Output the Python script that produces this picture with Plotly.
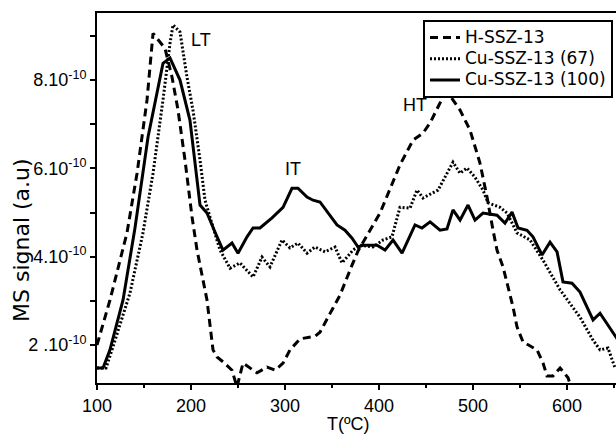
import plotly.graph_objects as go

SCALE = 1e-10

# H-SSZ-13 (dashed)
h_T = [100, 113.8, 131.9, 142.6, 153.2, 159.6, 172.3, 179.8, 186.2, 193.6, 201.1, 206.4, 217.0,
       223.4, 227.7, 234.0, 243.6, 248.9, 255.3, 270.2, 280.9, 289.4, 297.9, 305.3, 316.0, 332.0,
       337.2, 344.7, 351.1, 358.5, 363.8, 371.3, 377.7, 401.1, 422.3, 436.2, 446.8, 454.3, 468.1,
       473.4, 486.2, 496.8, 507.4, 514.9, 521.3, 525.5, 531.9, 536.2, 542.6, 546.8, 553.2, 568.1,
       574.5, 578.7, 585.1, 592.6, 601.1, 605.3]
h_S = [2.00, 3.02, 4.54, 5.89, 7.55, 9.06, 8.72, 8.07, 7.32, 6.19, 4.90, 4.15, 3.02,
       1.89, 1.73, 1.62, 1.43, 1.05, 1.59, 1.37, 1.50, 1.43, 1.59, 1.89, 2.14, 2.20,
       2.29, 2.57, 2.84, 3.13, 3.43, 3.81, 4.13, 4.99, 6.08, 6.64, 6.80, 7.03, 7.62,
       7.71, 7.32, 6.87, 6.12, 5.35, 4.60, 4.15, 3.77, 3.40, 2.86, 2.41, 2.07, 1.89,
       1.59, 1.30, 1.30, 1.48, 1.26, 0.98]

# Cu-SSZ-13 (67) (dotted)
c67_T = [100, 109.6, 117.0, 135.1, 148.9, 159.6, 170.2, 177.7, 180.9, 188.3, 195.7, 202.1, 209.6,
         214.9, 223.4, 230.9, 241.5, 252.1, 266.0, 275.5, 284.0, 296.8, 305.3, 313.8, 323.4, 331.9,
         342.6, 353.2, 360.6, 372.3, 379.8, 393.6, 404.3, 413.8, 422.3, 433.0, 440.4, 446.8, 462.8,
         478.7, 486.2, 493.6, 502.1, 510.6, 516.0, 528.7, 536.2, 546.8, 560.6, 574.5, 592.6, 613.8,
         627.7, 635.1, 643.6, 651.1]
c67_S = [1.48, 1.48, 1.96, 3.18, 4.54, 5.89, 7.55, 8.84, 9.25, 9.09, 8.07, 7.32, 6.19,
         5.28, 4.67, 4.15, 3.74, 3.86, 3.54, 3.99, 3.77, 4.38, 4.20, 4.31, 4.08, 4.22,
         4.11, 4.22, 3.86, 4.15, 4.26, 4.22, 4.38, 4.45, 5.12, 5.10, 5.51, 5.33, 5.51,
         6.14, 5.89, 6.01, 5.80, 5.51, 5.22, 5.12, 4.99, 4.54, 4.38, 3.92, 3.25, 2.63,
         2.11, 1.89, 1.93, 1.48]

# Cu-SSZ-13 (100) (solid)
c100_T = [100, 106.4, 113.8, 127.7, 140.4, 154.3, 170.2, 177.7, 188.3, 198.9, 209.6, 217.0, 225.5,
          234.0, 243.6, 250.0, 259.6, 266.0, 273.4, 286.2, 297.9, 307.4, 313.8, 323.4, 329.8, 337.2,
          355.3, 363.8, 371.3, 377.7, 383.0, 397.9, 406.4, 414.9, 424.5, 438.3, 445.7, 454.3, 464.9,
          472.3, 478.7, 486.2, 494.7, 502.1, 510.6, 525.5, 534.0, 541.5, 547.9, 557.4, 563.8, 573.4,
          581.9, 589.4, 595.7, 605.3, 613.8, 627.7, 635.1, 648.9, 654.3]
c100_S = [1.48, 1.48, 1.89, 3.02, 4.65, 6.71, 8.38, 8.50, 8.00, 7.09, 5.17, 4.99, 4.56,
          4.15, 4.31, 4.08, 4.45, 4.65, 4.65, 4.88, 5.12, 5.55, 5.55, 5.35, 5.28, 5.24,
          4.72, 4.60, 4.42, 4.22, 4.26, 4.26, 4.15, 4.38, 4.08, 4.72, 4.65, 4.79, 4.60,
          4.63, 5.06, 4.83, 5.17, 4.83, 4.99, 4.94, 4.76, 5.01, 4.65, 4.60, 4.45, 4.04,
          4.33, 4.11, 3.43, 3.40, 3.20, 2.57, 2.72, 2.27, 2.11]

series_names = ["H-SSZ-13", "Cu-SSZ-13 (67)", "Cu-SSZ-13 (100)"]

y_tickvals = [2, 4, 6, 8]
y_ticktext = ["2 .10<sup>-10</sup>", "4.10<sup>-10</sup>", "6.10<sup>-10</sup>", "8.10<sup>-10</sup>"]
x_tickvals = [100, 200, 300, 400, 500, 600]

peak_labels = ["LT", "IT", "HT"]
peak_T = [210.6, 308.5, 438.3]
peak_S = [8.91, 5.98, 7.43]

FONT = "Liberation Sans, Arial, sans-serif"
LEG_FONT = "DejaVu Sans, sans-serif"


def leg_name(s):
    return '<span style="font-size:17px">' + s + '</span>'


fig = go.Figure()
fig.add_trace(go.Scatter(x=h_T, y=[v * SCALE for v in h_S], mode="lines", name=leg_name(series_names[0]),
                         line=dict(color="black", width=3, dash="8px,5px")))
fig.add_trace(go.Scatter(x=c67_T, y=[v * SCALE for v in c67_S], mode="lines", name=leg_name(series_names[1]),
                         line=dict(color="black", width=3, dash="2px,2px")))
fig.add_trace(go.Scatter(x=c100_T, y=[v * SCALE for v in c100_S], mode="lines", name=leg_name(series_names[2]),
                         line=dict(color="black", width=3)))

for lab, t, s in zip(peak_labels, peak_T, peak_S):
    fig.add_annotation(x=t, y=s * SCALE, text=lab, showarrow=False,
                       font=dict(family=FONT, size=18, color="black"))

# axis titles as paper annotations (plot area: x 97..616, y 13..383 px)
fig.add_annotation(xref="paper", yref="paper", x=(348 - 97) / 519, y=-(424 - 383) / 370,
                   text="T(ºC)", showarrow=False, xanchor="center", yanchor="middle",
                   font=dict(family=FONT, size=18, color="black"))
fig.add_annotation(xref="paper", yref="paper", x=(22 - 97) / 519, y=(383 - 240) / 370,
                   text="MS signal (a.u)", showarrow=False, textangle=-90,
                   xanchor="center", yanchor="middle",
                   font=dict(family=LEG_FONT, size=22, color="black"))

fig.update_layout(
    width=616, height=438,
    margin=dict(l=97, r=0, t=13, b=55, autoexpand=False),
    paper_bgcolor="white", plot_bgcolor="white",
    font=dict(family=FONT, size=18, color="black"),
    showlegend=True,
    legend=dict(x=(423 - 97) / 519, y=1 - (20 - 13) / 370, xanchor="left", yanchor="top",
                bgcolor="white", bordercolor="black", borderwidth=2,
                font=dict(family=LEG_FONT, size=14, color="black"),
                tracegroupgap=0, itemwidth=30),
)
fig.update_xaxes(
    range=[100, 652.1], tickvals=x_tickvals, ticks="outside", ticklen=5, tickwidth=2,
    tickcolor="black", showline=True, linecolor="black", linewidth=2, mirror=True,
    showgrid=False, zeroline=False, automargin=False,
    minor=dict(tickvals=[150, 250, 350, 450, 550, 650], ticks="outside", ticklen=3,
               tickwidth=2, tickcolor="black", showgrid=False),
    tickfont=dict(family=FONT, size=18),
)
fig.update_yaxes(
    range=[1.14 * SCALE, 9.52 * SCALE], tickvals=[v * SCALE for v in y_tickvals], ticktext=y_ticktext,
    ticks="outside", ticklen=5, tickwidth=2, tickcolor="black",
    showline=True, linecolor="black", linewidth=2, mirror=False,
    showgrid=False, zeroline=False, automargin=False,
    minor=dict(tickvals=[v * SCALE for v in [3, 5, 7, 9]], ticks="outside", ticklen=5,
               tickwidth=2, tickcolor="black", showgrid=False),
    tickfont=dict(family=FONT, size=18),
)

fig.write_html("out.html", config={"displayModeBar": False},
               post_script="document.body.style.margin='0';document.body.style.padding='0';")
